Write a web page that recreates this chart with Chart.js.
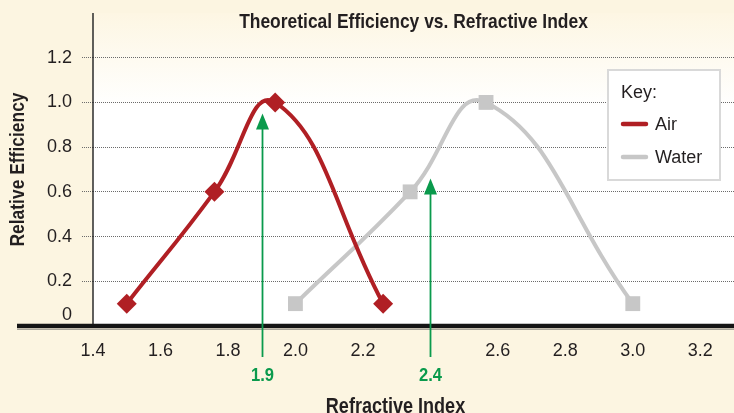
<!DOCTYPE html>
<html>
<head>
<meta charset="utf-8">
<script src="https://cdn.jsdelivr.net/npm/chart.js@4.4.1/dist/chart.umd.min.js"></script>
<style>
body { margin: 0; background: #fcf5e1; }
#wrap { width: 734px; height: 413px; }
</style>
</head>
<body>
<div id="wrap"><canvas id="chart" width="734" height="413"></canvas></div>
<script>
const titleText = 'Theoretical Efficiency vs. Refractive Index'
const xTitle = 'Refractive Index'
const yTitle = 'Relative Efficiency'
const legendTitle = 'Key:'
const seriesNames = ['Air', 'Water']
const airX = [1.5, 1.76, 1.94, 2.26]
const airY = [0.1, 0.6, 1.0, 0.1]
const waterX = [2.0, 2.34, 2.565, 3.0]
const waterY = [0.1, 0.6, 1.0, 0.1]
const xTicks = [1.4, 1.6, 1.8, 2.0, 2.2, 2.4, 2.6, 2.8, 3.0, 3.2]
const xTickSkip = [2.4]
const yTicks = [0, 0.2, 0.4, 0.6, 0.8, 1.0, 1.2]
const markerX = [1.9, 2.4]
const markerTop = [0.95, 0.66]

const cream = '#fcf5e1'
const ink = '#231f20'
const green = '#0a9a4c'
const colors = ['#b01f24', '#c7c7c7']
const face = '"Liberation Sans", Arial, sans-serif'

// bold text squeezed sideways to get the condensed look
const narrowText = (ctx, text, x, y, px, squeeze, rot) => {
    ctx.save()
    ctx.translate(x, y)
    if (rot) ctx.rotate(rot)
    ctx.scale(squeeze, 1)
    ctx.font = `bold ${px}px ${face}`
    ctx.fillText(text, 0, 0)
    ctx.restore()
}

const decor = {
    id: 'decor',
    beforeDraw(chart) {
        const { ctx, chartArea: ca } = chart
        ctx.save()
        ctx.fillStyle = cream
        ctx.fillRect(0, 0, chart.width, chart.height)
        let g = ctx.createLinearGradient(0, ca.top, 0, ca.top + 95)
        g.addColorStop(0, '#fdf6e3')
        g.addColorStop(1, '#ffffff')
        ctx.fillStyle = g
        ctx.fillRect(ca.left, ca.top, ca.right - ca.left, ca.bottom - ca.top)
        ctx.restore()
    },
    afterDraw(chart) {
        const { ctx, chartArea: ca } = chart
        const xs = chart.scales.x
        const ys = chart.scales.y
        const axisY = ys.getPixelForValue(0)
        ctx.save()

        // y axis line
        ctx.strokeStyle = '#2b2b2b'
        ctx.lineWidth = 1.5
        ctx.beginPath()
        ctx.moveTo(ca.left, ca.top)
        ctx.lineTo(ca.left, axisY)
        ctx.stroke()

        // thick base line
        ctx.strokeStyle = '#a9a59a'
        ctx.lineWidth = 1
        ctx.beginPath()
        ctx.moveTo(17, axisY + 3.5)
        ctx.lineTo(chart.width, axisY + 3.5)
        ctx.stroke()
        ctx.strokeStyle = '#151515'
        ctx.lineWidth = 4.5
        ctx.beginPath()
        ctx.moveTo(17, axisY)
        ctx.lineTo(chart.width, axisY)
        ctx.stroke()

        // zero label sits above the base line
        ctx.fillStyle = ink
        ctx.font = `18px ${face}`
        ctx.textAlign = 'right'
        ctx.textBaseline = 'alphabetic'
        ctx.fillText(String(yTicks[0]), ca.left - 21, axisY - 6)

        // titles
        ctx.textAlign = 'center'
        narrowText(ctx, titleText, (ca.left + ca.right) / 2, 28, 21, 0.83)
        narrowText(ctx, xTitle, (ca.left + ca.right) / 2 - 18, 413, 22, 0.82)
        ctx.textBaseline = 'middle'
        narrowText(ctx, yTitle, 18, (ca.top + ca.bottom) / 2, 21, 0.83, -Math.PI / 2)
        ctx.textBaseline = 'alphabetic'

        // arrows
        markerX.forEach((v, i) => {
            const xp = Math.round(xs.getPixelForValue(v)) + 0.5
            const top = ys.getPixelForValue(markerTop[i])
            ctx.strokeStyle = green
            ctx.fillStyle = green
            ctx.lineWidth = 1.8
            ctx.beginPath()
            ctx.moveTo(xp, top + 12)
            ctx.lineTo(xp, axisY + 31)
            ctx.stroke()
            ctx.beginPath()
            ctx.moveTo(xp, top)
            ctx.lineTo(xp - 6.5, top + 16)
            ctx.lineTo(xp + 6.5, top + 16)
            ctx.closePath()
            ctx.fill()
            narrowText(ctx, v.toFixed(1), xp, axisY + 55, 18, 0.92)
        })

        // legend box
        const bx = ca.right - 126
        const by = ca.top + 57
        ctx.fillStyle = '#ffffff'
        ctx.fillRect(bx, by, 112, 110)
        ctx.strokeStyle = '#d9d9d9'
        ctx.lineWidth = 2
        ctx.strokeRect(bx, by, 112, 110)
        ctx.fillStyle = ink
        ctx.font = `18px ${face}`
        ctx.textAlign = 'left'
        ctx.textBaseline = 'middle'
        ctx.fillText(legendTitle, bx + 13, by + 23)
        chart.data.datasets.forEach((ds, i) => {
            const ly = by + 54 + i * 33
            ctx.strokeStyle = ds.borderColor
            ctx.lineWidth = 4.5
            ctx.lineCap = 'round'
            ctx.beginPath()
            ctx.moveTo(bx + 15, ly)
            ctx.lineTo(bx + 38, ly)
            ctx.stroke()
            ctx.fillStyle = ink
            ctx.fillText(ds.label, bx + 47, ly + 1)
        })
        ctx.restore()
    }
}

const toPoints = (xsArr, ysArr) => xsArr.map((x, i) => ({ x: x, y: ysArr[i] }))

new Chart(document.getElementById('chart'), {
    type: 'line',
    data: {
        datasets: [
            {
                label: seriesNames[0],
                data: toPoints(airX, airY),
                borderColor: colors[0],
                backgroundColor: colors[0],
                borderWidth: 4,
                tension: 0.45,
                pointStyle: 'rectRot',
                pointRadius: 10,
                pointBorderWidth: 0,
                pointBackgroundColor: colors[0],
            },
            {
                label: seriesNames[1],
                data: toPoints(waterX, waterY),
                borderColor: colors[1],
                backgroundColor: colors[1],
                borderWidth: 4,
                tension: 0.45,
                pointStyle: 'rect',
                pointRadius: 10.5,
                pointBorderWidth: 0,
                pointBackgroundColor: colors[1],
            }
        ]
    },
    options: {
        responsive: false,
        animation: false,
        devicePixelRatio: 1,
        layout: { autoPadding: false, padding: { top: 13, right: 0, left: 0, bottom: 0 } },
        plugins: {
            legend: { display: false },
            tooltip: { enabled: false },
        },
        scales: {
            x: {
                type: 'linear',
                min: 1.4,
                max: 3.3,
                afterBuildTicks: (s) => { s.ticks = xTicks.map(v => ({ value: v })) },
                afterFit: (s) => {
                    s.height = 87
                    s.paddingLeft = 0
                    s.paddingRight = 0
                },
                grid: { display: false, drawTicks: false },
                border: { display: false },
                ticks: {
                    padding: 14,
                    color: ink,
                    font: { family: face, size: 18 },
                    callback: (v) => xTickSkip.includes(v) ? '' : v.toFixed(1),
                },
            },
            y: {
                min: 0,
                max: 1.4,
                afterBuildTicks: (s) => { s.ticks = yTicks.map(v => ({ value: v })) },
                afterFit: (s) => {
                    s.width = 93
                    s.paddingTop = 0
                    s.paddingBottom = 0
                },
                grid: {
                    color: (c) => c.tick && c.tick.value === 0 ? 'rgba(0,0,0,0)' : '#6b6b6b',
                    tickColor: (c) => c.tick && c.tick.value === 0 ? 'rgba(0,0,0,0)' : '#6b6b6b',
                    lineWidth: 1,
                    tickLength: 11,
                    tickBorderDash: [1, 1],
                },
                border: { display: false, dash: [1, 1] },
                ticks: {
                    padding: 10,
                    color: ink,
                    font: { family: face, size: 18 },
                    callback: (v) => v === 0 ? '' : v.toFixed(1),
                },
            }
        }
    },
    plugins: [decor]
})
</script>
</body>
</html>
